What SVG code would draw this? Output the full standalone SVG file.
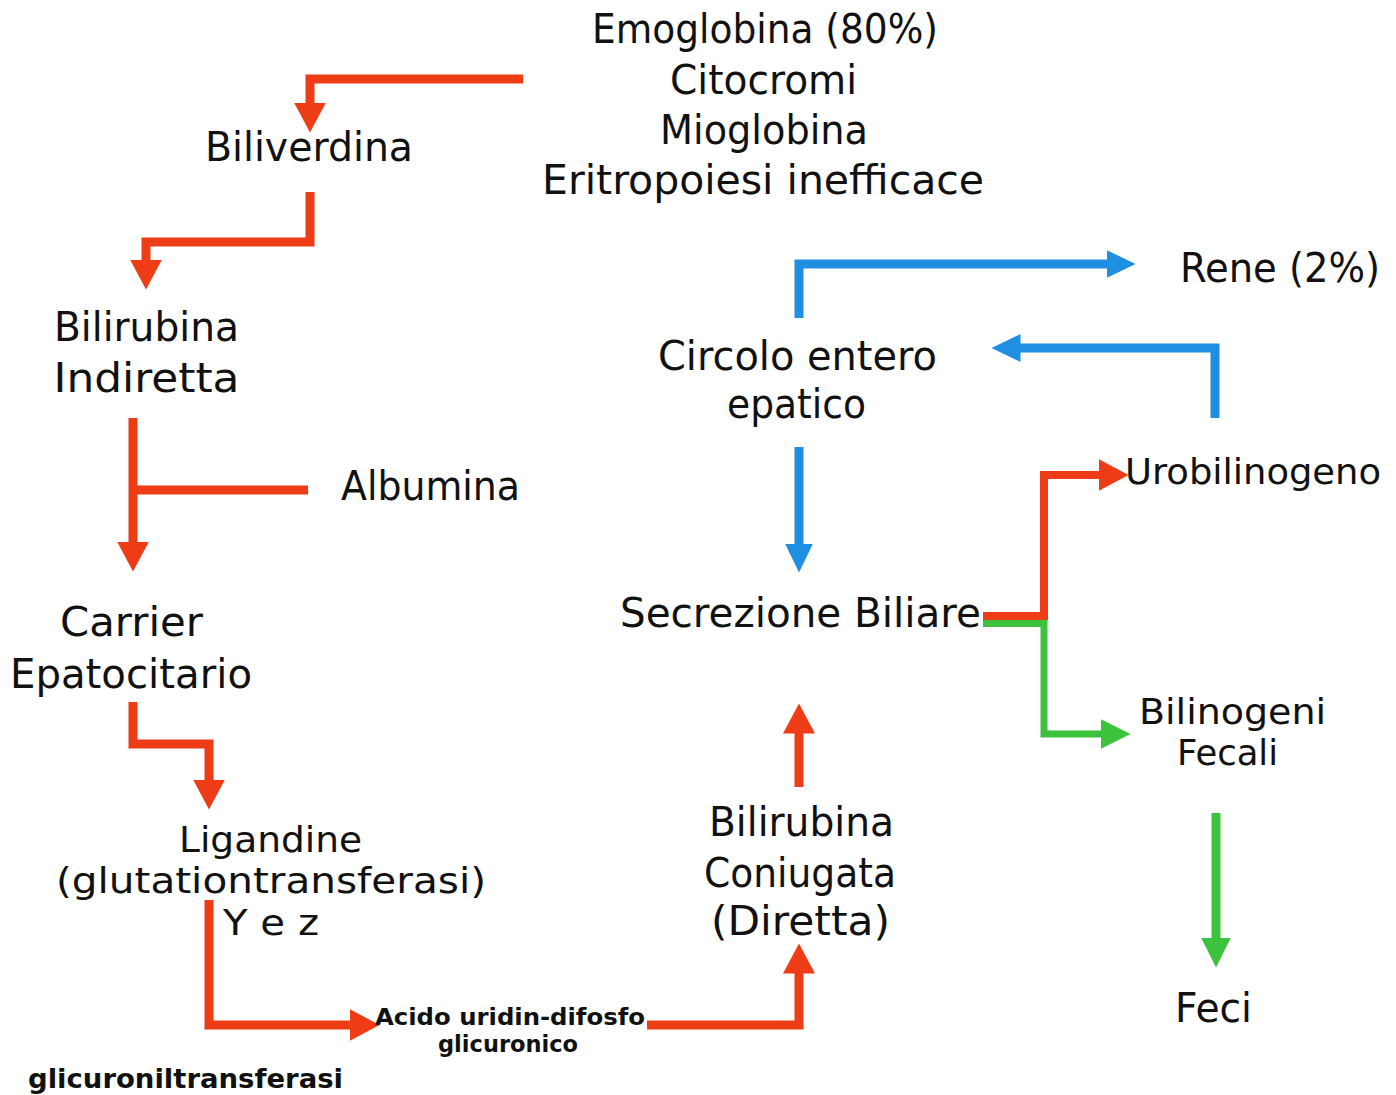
<svg xmlns="http://www.w3.org/2000/svg" width="1396" height="1095" viewBox="0 0 1396 1095">
<style>
.t{font-family:"DejaVu Sans","Liberation Sans",sans-serif;font-size:40px;fill:#111;text-anchor:middle}
.s{font-size:36px}
.b{font-family:"DejaVu Sans","Liberation Sans",sans-serif;font-weight:bold;fill:#111;text-anchor:middle}
.c{fill:none;stroke-width:9;stroke-linejoin:miter;stroke-linecap:butt}
.red{stroke:#EE3C17}.blue{stroke:#1E8FE3}.green{stroke:#3DC23D}
</style>
<defs>
<marker id="ar" viewBox="0 0 30 32" markerWidth="30" markerHeight="32" refX="0.5" refY="16" orient="auto" markerUnits="userSpaceOnUse"><path d="M0,0 L30,16 L0,32 Z" fill="#EE3C17"/></marker>
<marker id="ab" viewBox="0 0 29 28" markerWidth="29" markerHeight="28" refX="0.5" refY="14" orient="auto" markerUnits="userSpaceOnUse"><path d="M0,0 L29,14 L0,28 Z" fill="#1E8FE3"/></marker>
<marker id="ag" viewBox="0 0 30 30" markerWidth="30" markerHeight="30" refX="0.5" refY="15" orient="auto" markerUnits="userSpaceOnUse"><path d="M0,0 L30,15 L0,30 Z" fill="#3DC23D"/></marker>
</defs>
<rect width="1396" height="1095" fill="#fff"/>
<g id="connectors">
<path class="c red" d="M523,79 H310 V103" marker-end="url(#ar)"/>
<path class="c red" d="M310,192 V242 H146 V260" marker-end="url(#ar)"/>
<path class="c red" d="M133,418 V542" marker-end="url(#ar)"/>
<path class="c red" d="M133,490 H308"/>
<path class="c red" d="M133,702 V744 H209 V780" marker-end="url(#ar)"/>
<path class="c red" d="M209,900 V1025 H350" marker-end="url(#ar)"/>
<path class="c red" d="M647,1025 H799 V973" marker-end="url(#ar)"/>
<path class="c red" d="M799,787 V733" marker-end="url(#ar)"/>
<path class="c blue" d="M799,447 V544" marker-end="url(#ab)"/>
<path class="c blue" d="M799,318 V264 H1107" marker-end="url(#ab)"/>
<path class="c blue" d="M1215,418 V348 H1020" marker-end="url(#ab)"/>
<path class="c green" style="stroke-width:7" d="M983,623.5 H1044 V734 H1101" marker-end="url(#ag)"/>
<path class="c red" style="stroke-width:8" d="M983,616 H1044 V475 H1099" marker-end="url(#ar)"/>
<path class="c green" d="M1216,813 V938" marker-end="url(#ag)"/>
</g>
<g id="n-sources">
<text class="t" x="765" y="43" textLength="346" lengthAdjust="spacingAndGlyphs">Emoglobina (80%)</text>
<text class="t" x="763.5" y="94" textLength="187" lengthAdjust="spacingAndGlyphs">Citocromi</text>
<text class="t" x="764" y="144" textLength="208" lengthAdjust="spacingAndGlyphs">Mioglobina</text>
<text class="t" x="763" y="194" textLength="442" lengthAdjust="spacingAndGlyphs">Eritropoiesi inefficace</text>
</g>
<g id="n-biliverdina"><text class="t" x="309" y="161" textLength="208" lengthAdjust="spacingAndGlyphs">Biliverdina</text></g>
<g id="n-bilirubina-indiretta">
<text class="t" x="146.5" y="341" textLength="185" lengthAdjust="spacingAndGlyphs">Bilirubina</text>
<text class="t" x="146.5" y="392" textLength="186" lengthAdjust="spacingAndGlyphs">Indiretta</text>
</g>
<g id="n-albumina"><text class="t" x="430.5" y="500" textLength="179" lengthAdjust="spacingAndGlyphs">Albumina</text></g>
<g id="n-carrier">
<text class="t" x="131.5" y="636" textLength="143" lengthAdjust="spacingAndGlyphs">Carrier</text>
<text class="t" x="131" y="688" textLength="242" lengthAdjust="spacingAndGlyphs">Epatocitario</text>
</g>
<g id="n-ligandine">
<text class="t s" x="270.5" y="852" textLength="183" lengthAdjust="spacingAndGlyphs">Ligandine</text>
<text class="t s" x="271" y="893" textLength="430" lengthAdjust="spacingAndGlyphs">(glutationtransferasi)</text>
<text class="t s" x="271" y="935" textLength="96" lengthAdjust="spacingAndGlyphs">Y e z</text>
</g>
<g id="n-acido">
<text class="b" x="510" y="1025" font-size="23" textLength="270" lengthAdjust="spacingAndGlyphs">Acido uridin-difosfo</text>
<text class="b" x="508" y="1052" font-size="23" textLength="140" lengthAdjust="spacingAndGlyphs">glicuronico</text>
</g>
<g id="n-glicuroniltransferasi"><text class="b" x="185.5" y="1088" font-size="26" textLength="315" lengthAdjust="spacingAndGlyphs">glicuroniltransferasi</text></g>
<g id="n-bilirubina-coniugata">
<text class="t" x="801.5" y="836" textLength="185" lengthAdjust="spacingAndGlyphs">Bilirubina</text>
<text class="t" x="800" y="887" textLength="192" lengthAdjust="spacingAndGlyphs">Coniugata</text>
<text class="t" x="800.5" y="935" textLength="179" lengthAdjust="spacingAndGlyphs">(Diretta)</text>
</g>
<g id="n-secrezione"><text class="t" x="800.5" y="627" textLength="361" lengthAdjust="spacingAndGlyphs">Secrezione Biliare</text></g>
<g id="n-circolo">
<text class="t" x="797.5" y="370" textLength="279" lengthAdjust="spacingAndGlyphs">Circolo entero</text>
<text class="t" x="796.5" y="418" textLength="139" lengthAdjust="spacingAndGlyphs">epatico</text>
</g>
<g id="n-rene"><text class="t" x="1280" y="282" textLength="200" lengthAdjust="spacingAndGlyphs">Rene (2%)</text></g>
<g id="n-urobilinogeno"><text class="t s" x="1253" y="484" textLength="256" lengthAdjust="spacingAndGlyphs">Urobilinogeno</text></g>
<g id="n-bilinogeni">
<text class="t s" x="1232.5" y="724" textLength="187" lengthAdjust="spacingAndGlyphs">Bilinogeni</text>
<text class="t s" x="1227.5" y="765" textLength="101" lengthAdjust="spacingAndGlyphs">Fecali</text>
</g>
<g id="n-feci"><text class="t" x="1213.5" y="1022" textLength="77" lengthAdjust="spacingAndGlyphs">Feci</text></g>
</svg>
